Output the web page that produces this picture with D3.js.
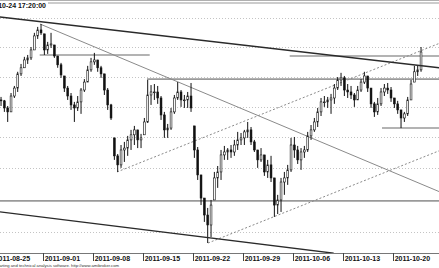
<!DOCTYPE html>
<html><head><meta charset="utf-8">
<script src="https://cdn.jsdelivr.net/npm/d3@7"></script>
<style>html,body{margin:0;padding:0;background:#fff;overflow:hidden}</style>
</head><body>
<svg id="c" width="439" height="268"></svg>
<script>
// ---- data ----
const weekLabels = ["2011-08-25","2011-09-01","2011-09-08","2011-09-15","2011-09-22","2011-09-29","2011-10-06","2011-10-13","2011-10-20"];
const weekStartDay = [0,5,10,15,20,25,30,35,40];
const barsPerDay = 3;
const high = [
1212.3,1209.7,1206.4, 1204.4,1200.4,1209.0, 1213.7,1223.2,1228.5, 1233.3,1234.6,1240.0, 1249.7,1253.8,1255.8,
1249.0,1243.5,1249.7, 1241.4,1233.9,1229.2, 1220.4,1213.7,1209.0, 1203.1,1207.0,1212.3, 1218.3,1227.2,1232.6,
1236.0,1231.2,1227.2, 1221.8,1212.3,1201.8, 1179.5,1169.1,1174.9, 1176.9,1180.8,1184.7, 1187.3,1184.7,1182.1,
1192.5,1217.7,1214.3, 1215.0,1213.7,1207.0, 1196.5,1188.6,1199.1, 1207.7,1216.3,1211.0, 1207.7,1209.7,1215.7,
1187.3,1173.6,1155.7, 1141.1,1134.9,1139.9, 1157.6,1161.4,1171.7, 1174.3,1172.9,1174.9, 1178.2,1183.4,1182.7,
1184.7,1189.9,1186.6, 1178.2,1171.7,1172.9, 1168.5,1165.3,1167.9, 1153.8,1143.1,1153.8, 1157.6,1162.1,1179.5,
1180.1,1174.3,1172.9, 1174.3,1183.4,1187.9, 1192.5,1199.1,1205.7, 1207.0,1206.4,1208.4, 1215.0,1219.7,1222.5,
1220.4,1215.0,1213.7, 1209.0,1213.7,1218.3, 1223.2,1220.4,1212.3, 1203.1,1205.7,1212.3, 1215.0,1215.7,1213.0,
1205.7,1203.8,1197.8, 1196.5,1206.4,1217.7, 1227.2,1227.2,1240.0];
const low = [
1204.4,1201.8,1200.4, 1196.5,1189.9,1196.5, 1205.7,1209.7,1220.4, 1225.9,1228.5,1231.2, 1238.0,1245.5,1248.3,
1234.6,1235.3,1239.4, 1232.6,1225.9,1219.1, 1209.7,1204.4,1197.8, 1189.9,1197.1,1195.2, 1209.7,1216.3,1223.2,
1227.9,1223.2,1219.1, 1207.7,1197.8,1191.2, 1165.3,1157.6,1160.2, 1164.0,1167.9,1171.7, 1174.9,1172.9,1172.9,
1181.5,1189.2,1201.1, 1204.4,1201.8,1191.2, 1179.5,1179.5,1184.7, 1195.2,1204.4,1199.8, 1199.1,1199.1,1196.5,
1166.6,1152.5,1136.7, 1126.2,1113.2,1116.9, 1139.9,1147.5,1152.5, 1165.3,1165.3,1166.6, 1167.9,1171.7,1174.9,
1174.9,1179.5,1174.9, 1170.4,1160.2,1164.0, 1155.1,1153.8,1151.2, 1129.3,1131.1,1132.4, 1143.1,1149.4,1157.6,
1166.6,1162.7,1158.9, 1166.6,1170.4,1178.2, 1183.4,1186.6,1193.8, 1199.8,1199.1,1195.2, 1201.8,1211.0,1213.7,
1207.0,1205.7,1205.0, 1199.8,1204.4,1209.7, 1215.0,1209.7,1199.1, 1193.2,1194.5,1200.4, 1207.0,1208.4,1203.1,
1199.1,1195.2,1185.9, 1189.9,1193.8,1204.4, 1216.3,1220.4,1223.2];
const close = [
1207.7,1204.4,1203.8, 1199.1,1196.5,1207.0, 1212.3,1221.8,1225.9, 1231.2,1232.6,1238.0, 1247.6,1251.7,1249.7,
1238.0,1241.4,1242.1, 1233.9,1227.9,1221.1, 1212.3,1207.0,1201.1, 1199.1,1203.1,1211.0, 1216.3,1224.5,1229.9,
1231.2,1225.9,1221.8, 1211.0,1201.1,1192.5, 1167.9,1162.1,1171.7, 1172.9,1178.2,1181.5, 1184.7,1178.2,1179.5,
1189.9,1207.7,1209.7, 1209.7,1205.7,1194.5, 1184.7,1185.9,1196.5, 1205.7,1209.7,1204.4, 1204.4,1207.0,1199.1,
1171.7,1155.7,1141.1, 1130.5,1124.3,1136.7, 1153.8,1157.6,1168.5, 1170.4,1171.7,1170.4, 1174.9,1178.2,1179.5,
1183.4,1184.7,1176.9, 1171.7,1165.3,1168.5, 1157.6,1162.1,1153.8, 1136.7,1139.9,1151.2, 1153.8,1158.9,1174.9,
1171.7,1165.3,1170.4, 1171.7,1180.8,1184.7, 1189.9,1196.5,1203.1, 1203.1,1204.4,1205.7, 1212.3,1217.7,1219.1,
1211.0,1209.7,1207.7, 1204.4,1211.0,1216.3, 1220.4,1212.3,1201.8, 1196.5,1201.8,1209.7, 1212.3,1211.0,1205.7,
1201.8,1197.8,1192.5, 1195.2,1204.4,1215.0, 1223.2,1224.5,1236.6];
const gridPrices = [1260,1240,1220,1200,1180,1160,1140,1120];
// trend lines: [dayIndex, price] endpoints
const upperChannel = [[0,1261.2],[44.7,1225.9]];
const lowerChannel = [[0,1133.0],[34.1,1107.0]];
const fallLine = [[4.73,1255.8],[44.7,1145.0]];
const riseLineA = [[12.43,1157.6],[44.7,1242.6]];
const riseLineB = [[21.53,1113.2],[44.7,1171.3]];
// horizontal levels: [fromDay, toDay, price]
const levels = [[4.7,15.7,1234.6],[29.7,44.7,1233.9],[15.43,44.7,1218.3],[0,44.7,1139.3],[38.93,44.7,1185.9]];
const titleText = "2011-10-24 17:20:00";
const footerText = "AmiBroker - charting and technical analysis software. http://www.amibroker.com";

// ---- drawing ----
const W = 439, H = 268, plotTop = 3, plotBottom = 253;
const svg = d3.select("#c");
const x = d3.scaleLinear().domain([0, 43]).range([-7.3, 422.7]);
const y = d3.scaleLog().domain([1107.1, 1270.4]).range([plotBottom, plotTop]);

svg.append("defs").append("clipPath").attr("id","plot")
  .append("rect").attr("x",0).attr("y",plotTop).attr("width",W).attr("height",plotBottom-plotTop);

// gridlines
svg.append("g").selectAll("line").data(gridPrices).join("line")
  .attr("x1",0).attr("x2",W).attr("y1",d=>Math.round(y(d))+0.5).attr("y2",d=>Math.round(y(d))+0.5)
  .attr("stroke","#c4c4c4").attr("stroke-width",1).attr("stroke-dasharray","1,2");

const plot = svg.append("g").attr("clip-path","url(#plot)");

// horizontal levels
plot.append("g").selectAll("line").data(levels).join("line")
  .attr("x1",d=>x(d[0])).attr("x2",d=>x(d[1]))
  .attr("y1",d=>y(d[2])).attr("y2",d=>y(d[2]))
  .attr("stroke","#9a9a9a").attr("stroke-width",1.6);

function seg(g, pts, stroke, width, dash){
  g.append("line").attr("x1",x(pts[0][0])).attr("y1",y(pts[0][1]))
   .attr("x2",x(pts[1][0])).attr("y2",y(pts[1][1]))
   .attr("stroke",stroke).attr("stroke-width",width)
   .attr("stroke-dasharray",dash||null);
}
seg(plot, fallLine, "#8a8a8a", 1);
seg(plot, riseLineA, "#8a8a8a", 1, "2,2");
seg(plot, riseLineB, "#8a8a8a", 1, "2,2");

// candles
const bars = high.map((h,i)=>{
  const day = Math.floor(i/barsPerDay), k = i%barsPerDay;
  const prev = i===0 ? close[0] : close[i-1];
  const o = Math.max(low[i], Math.min(h, prev));
  return {t: day + (k+0.5)/barsPerDay, h, l: low[i], o, c: close[i]};
});
const cg = plot.append("g");
cg.selectAll("line").data(bars).join("line")
  .attr("x1",d=>x(d.t)).attr("x2",d=>x(d.t))
  .attr("y1",d=>y(d.h)).attr("y2",d=>y(d.l))
  .attr("stroke","#111").attr("stroke-width",1);
cg.selectAll("rect").data(bars).join("rect")
  .attr("x",d=>x(d.t)-0.9).attr("width",1.8)
  .attr("y",d=>y(Math.max(d.o,d.c))).attr("height",d=>Math.max(0.8, Math.abs(y(d.o)-y(d.c))))
  .attr("fill",d=>d.c>=d.o?"#fff":"#111").attr("stroke","#111").attr("stroke-width",0.6);

// channel lines (on top)
seg(plot, upperChannel, "#2a2a2a", 1.4);
seg(plot, lowerChannel, "#2a2a2a", 1.4);

// top border & title
svg.append("line").attr("x1",0).attr("x2",W).attr("y1",0.5).attr("y2",0.5).attr("stroke","#b0b0b0");
svg.append("line").attr("x1",48).attr("x2",W).attr("y1",3).attr("y2",3).attr("stroke","#999").attr("stroke-width",1);
svg.append("text").attr("x",46).attr("y",7.5).attr("text-anchor","end")
  .attr("font-family","'Liberation Sans', Arial, sans-serif").attr("font-weight","bold").attr("font-size",7)
  .attr("fill","#111").text(titleText);

// x axis
svg.append("line").attr("x1",0).attr("x2",W).attr("y1",plotBottom+0.5).attr("y2",plotBottom+0.5).attr("stroke","#777");
const ax = svg.append("g");
ax.selectAll("line").data(weekStartDay).join("line")
  .attr("x1",d=>Math.round(x(d))+0.5).attr("x2",d=>Math.round(x(d))+0.5)
  .attr("y1",plotBottom).attr("y2",plotBottom+8).attr("stroke","#444");
ax.selectAll("text").data(weekStartDay).join("text")
  .attr("x",d=>x(d)+2).attr("y",plotBottom+8)
  .attr("font-family","'Liberation Sans', Arial, sans-serif").attr("font-weight","bold").attr("font-size",7)
  .attr("fill","#111").text((d,i)=>weekLabels[i]);

svg.append("text").attr("x",119).attr("y",267).attr("text-anchor","end")
  .attr("font-family","'Liberation Sans', Arial, sans-serif").attr("font-size",4.2)
  .attr("fill","#333").text(footerText);
</script>
</body></html>
